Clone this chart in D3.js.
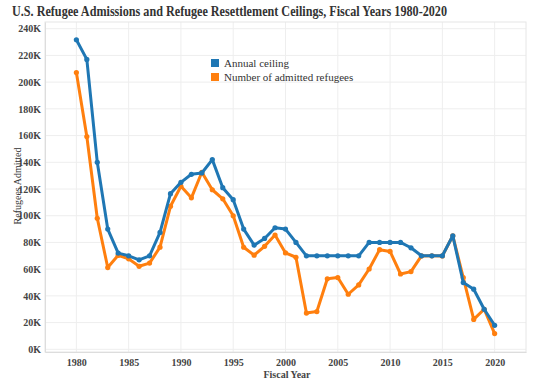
<!DOCTYPE html>
<html>
<head>
<meta charset="utf-8">
<script src="https://cdn.jsdelivr.net/npm/d3@7"></script>
<style>
  body { margin: 0; background: #fff; }
  svg text { font-family: "Liberation Serif", "DejaVu Serif", "Times New Roman", serif !important; }
</style>
</head>
<body>
<div id="chart"></div>
<script>
// Data
var years = d3.range(1980, 2021);
var ceiling = [231700, 217000, 140000, 90000, 72000, 70000, 67000, 70000, 87500, 116500,
    125000, 131000, 132000, 142000, 121000, 112000, 90000, 78000, 83000, 91000,
    90000, 80000, 70000, 70000, 70000, 70000, 70000, 70000, 80000, 80000,
    80000, 80000, 76000, 70000, 70000, 70000, 85000, 50000, 45000, 30000, 18000];
var admitted = [207116, 159252, 98096, 61218, 70393, 67704, 62146, 64528, 76483, 107070,
    122066, 113389, 132531, 119448, 112682, 99974, 76403, 70488, 77080, 85525,
    72165, 68920, 27131, 28286, 52840, 53738, 41223, 48218, 60107, 74602,
    73293, 56384, 58179, 69909, 69975, 69920, 84989, 53716, 22405, 30000, 11814];
var yTicks = [0, 20000, 40000, 60000, 80000, 100000, 120000, 140000, 160000, 180000, 200000, 220000, 240000];
var xTicks = [1980, 1985, 1990, 1995, 2000, 2005, 2010, 2015, 2020];
var seriesNames = ["Annual ceiling", "Number of admitted refugees"];
var colors = ["#1f77b4", "#ff7f0e"];

var width = 537, height = 382;
var margin = { left: 45, right: 11, top: 22, bottom: 30 };
var serif = "'Liberation Serif', 'DejaVu Serif', serif";

var svg = d3.select("#chart")
    .append("svg")
    .attr("width", width)
    .attr("height", height);

var x = d3.scaleLinear()
    .domain([1977, 2023])
    .range([margin.left, width - margin.right]);

var y = d3.scaleLinear()
    .domain([-2000, 245000])
    .range([height - margin.bottom, margin.top]);

// Title
svg.append("text")
    .attr("x", 12)
    .attr("y", 16)
    .text("U.S. Refugee Admissions and Refugee Resettlement Ceilings, Fiscal Years 1980-2020")
    .attr("font-family", serif)
    .attr("font-size", "14px")
    .attr("font-weight", "bold")
    .attr("textLength", 435)
    .attr("lengthAdjust", "spacingAndGlyphs")
    .attr("fill", "#333");

// Grid lines
svg.append("g")
    .selectAll("line")
    .data(yTicks)
    .enter()
    .append("line")
    .attr("x1", margin.left)
    .attr("x2", width - margin.right)
    .attr("y1", d => y(d))
    .attr("y2", d => y(d))
    .attr("stroke", "#eeeeee");

svg.append("g")
    .selectAll("line")
    .data(xTicks)
    .enter()
    .append("line")
    .attr("x1", d => x(d))
    .attr("x2", d => x(d))
    .attr("y1", margin.top)
    .attr("y2", height - margin.bottom)
    .attr("stroke", "#eeeeee");

// Plot frame
svg.append("rect")
    .attr("x", margin.left)
    .attr("y", margin.top)
    .attr("width", width - margin.left - margin.right)
    .attr("height", height - margin.top - margin.bottom)
    .attr("fill", "none")
    .attr("stroke", "#e6e6e6");

// Axes
var yAxis = svg.append("g")
    .attr("transform", "translate(" + margin.left + ",0)")
    .call(d3.axisLeft(y).tickValues(yTicks).tickSize(0).tickPadding(4)
        .tickFormat(d => (d / 1000) + "K"));

var xAxis = svg.append("g")
    .attr("transform", "translate(0," + (height - margin.bottom) + ")")
    .call(d3.axisBottom(x).tickValues(xTicks).tickSize(0).tickPadding(7)
        .tickFormat(d3.format("d")));

[yAxis, xAxis].forEach(function (a) {
    a.attr("font-family", serif);
    a.select(".domain").attr("stroke", "#dddddd");
    a.selectAll("text")
        .attr("font-size", "10px")
        .attr("font-weight", "bold")
        .attr("fill", "#444");
});

// Axis titles
svg.append("text")
    .attr("transform", "translate(21,186) rotate(-90)")
    .attr("text-anchor", "middle")
    .text("Refugees Admitted")
    .attr("font-family", serif)
    .attr("font-size", "10px")
    .attr("fill", "#333");

svg.append("text")
    .attr("x", 287)
    .attr("y", 378)
    .attr("text-anchor", "middle")
    .text("Fiscal Year")
    .attr("font-family", serif)
    .attr("font-size", "10px")
    .attr("font-weight", "bold")
    .attr("fill", "#444");

// Lines and points
var line = d3.line()
    .x(d => x(d.year))
    .y(d => y(d.value));

var series = [ceiling, admitted];
// draw admitted first so ceiling sits on top
[1, 0].forEach(function (s) {
    var pts = years.map((yr, i) => ({ year: yr, value: series[s][i] }));
    svg.append("path")
        .datum(pts)
        .attr("d", line)
        .attr("fill", "none")
        .attr("stroke", colors[s])
        .attr("stroke-width", 3)
        .attr("stroke-linejoin", "round");
    svg.append("g")
        .selectAll("circle")
        .data(pts)
        .enter()
        .append("circle")
        .attr("cx", d => x(d.year))
        .attr("cy", d => y(d.value))
        .attr("r", 2.6)
        .attr("fill", colors[s]);
});

// Legend
var legend = svg.append("g").attr("transform", "translate(211,59)");
seriesNames.forEach(function (name, i) {
    legend.append("rect")
        .attr("x", 0)
        .attr("y", i * 14)
        .attr("width", 8)
        .attr("height", 8)
        .attr("fill", colors[i]);
    legend.append("text")
        .attr("x", 13)
        .attr("y", i * 14 + 8)
        .text(name)
        .attr("font-family", serif)
        .attr("font-size", "11px")
        .attr("fill", "#333");
});
</script>
</body>
</html>
